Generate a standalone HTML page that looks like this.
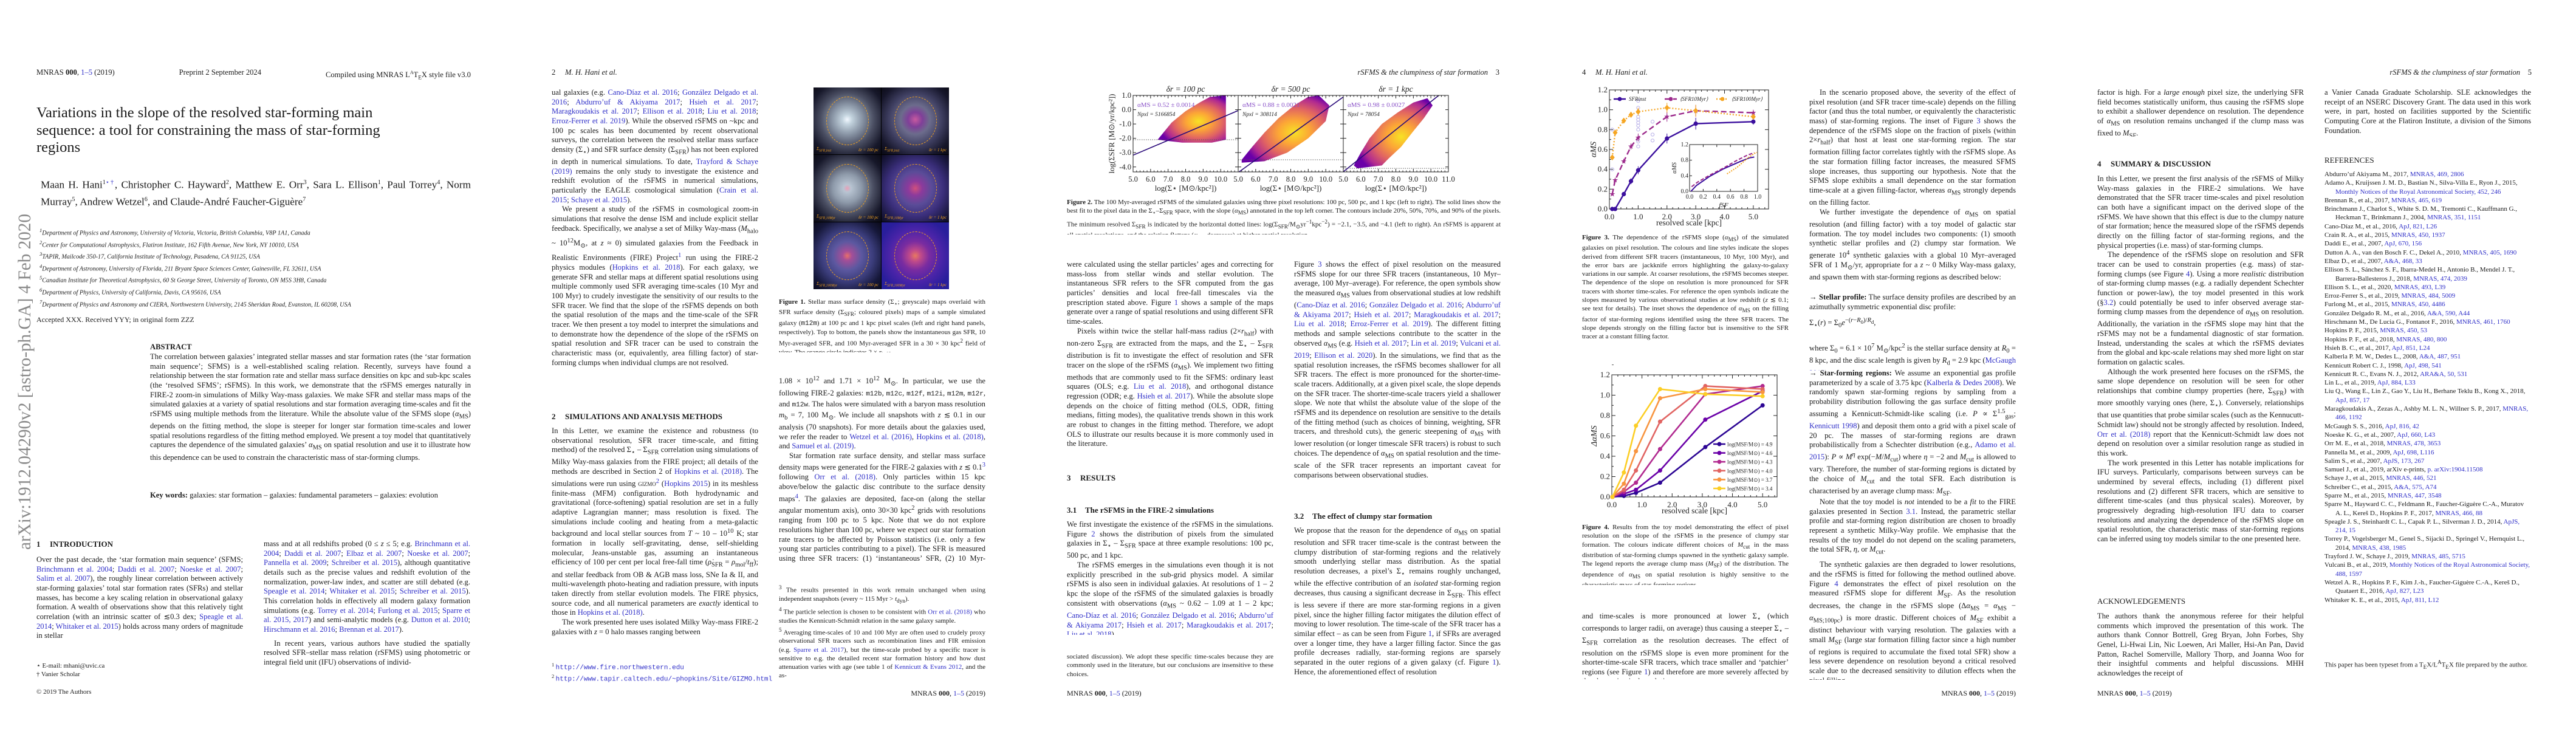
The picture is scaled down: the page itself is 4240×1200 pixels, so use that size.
<!DOCTYPE html>
<html lang="en"><head><meta charset="utf-8"><title>Variations in the slope of the resolved star-forming main sequence</title>
<style>
*{box-sizing:border-box}
html,body{margin:0;padding:0;background:#fff}
body{width:4240px;height:1200px;position:relative;overflow:hidden;font-family:"Liberation Serif","DejaVu Serif",serif;color:#1a1a1a}
.a{position:absolute}
.t{position:absolute;width:340px;font-size:12.6px;line-height:15.65px;text-align:justify;hyphens:auto;overflow:hidden}
.t p{margin:0}
.t p.i{text-indent:17px}
.s{position:absolute;font-size:11px;line-height:14.25px;text-align:justify;hyphens:auto;overflow:hidden}
.s p{margin:0}
.l{color:#2f2fc8}
.hd{position:absolute;font-size:12.6px;line-height:15px;white-space:nowrap}
.h{position:absolute;font-size:13px;font-weight:bold;white-space:nowrap;line-height:16px}
.h span{display:inline-block;width:22px}
.hs{position:absolute;font-size:13px;font-weight:bold;white-space:nowrap;line-height:16px}
.hs span{display:inline-block;width:30px}
.tt{font-family:"Liberation Mono",monospace;font-size:11px}
.fig1 .c{position:absolute;width:111px;height:110px;overflow:hidden}
.fig1 .ring{position:absolute;left:21px;top:15px;width:70px;height:80px;border:1.5px dashed #f0a020;border-radius:50%}
.fig1 .lb{position:absolute;bottom:3px;font-size:7px;color:#f0a020;font-style:italic}
.ref{position:absolute;width:340px;font-size:11px;line-height:14.3px;overflow:hidden}
.ref div{padding-left:18px;text-indent:-18px}
</style></head><body>

<!-- ================= PAGE 1 ================= -->
<div class="a" style="left:0;top:0;width:848px;height:1200px">
<div class="hd" style="left:60px;top:112px;width:715px;display:flex;justify-content:space-between">
<span>MNRAS <b>000</b>, <span class="l">1–5</span> (2019)</span><span>Preprint 2 September 2024</span><span>Compiled using MNRAS L<sup style="font-size:8px">A</sup>T<sub style="font-size:9px">E</sub>X style file v3.0</span></div>

<svg class="a" style="left:0;top:0" width="80" height="1200"><text x="50" y="905" transform="rotate(-90 50 905)" textLength="553" lengthAdjust="spacingAndGlyphs" font-family="Liberation Serif" font-size="30" fill="#8a8a8a">arXiv:1912.04290v2  [astro-ph.GA]  4 Feb 2020</text></svg>

<div class="a" style="left:60px;top:172px;width:740px;font-size:24.5px;line-height:28.7px">Variations in the slope of the resolved star-forming main<br>sequence: a tool for constraining the mass of star-forming<br>regions</div>

<div class="a" style="left:67px;top:289px;width:708px;font-size:17.2px;line-height:24px;text-align:justify">Maan H. Hani<sup style="font-size:10px">1<span class="l">⋆†</span></sup>, Christopher C. Hayward<sup style="font-size:10px">2</sup>, Matthew E. Orr<sup style="font-size:10px">3</sup>, Sara L. Ellison<sup style="font-size:10px">1</sup>, Paul Torrey<sup style="font-size:10px">4</sup>, Norm Murray<sup style="font-size:10px">5</sup>, Andrew Wetzel<sup style="font-size:10px">6</sup>, and Claude-André Faucher-Giguère<sup style="font-size:10px">7</sup></div>

<div class="a" style="left:65px;top:372px;width:720px;font-size:10.2px;line-height:14.2px;font-style:italic;white-space:nowrap">
<div><sup>1</sup>Department of Physics and Astronomy, University of Victoria, Victoria, British Columbia, V8P 1A1, Canada</div>
<div><sup>2</sup>Center for Computational Astrophysics, Flatiron Institute, 162 Fifth Avenue, New York, NY 10010, USA</div>
<div><sup>3</sup>TAPIR, Mailcode 350-17, California Institute of Technology, Pasadena, CA 91125, USA</div>
<div><sup>4</sup>Department of Astronomy, University of Florida, 211 Bryant Space Sciences Center, Gainesville, FL 32611, USA</div>
<div><sup>5</sup>Canadian Institute for Theoretical Astrophysics, 60 St George Street, University of Toronto, ON M5S 3H8, Canada</div>
<div><sup>6</sup>Department of Physics, University of California, Davis, CA 95616, USA</div>
<div><sup>7</sup>Department of Physics and Astronomy and CIERA, Northwestern University, 2145 Sheridan Road, Evanston, IL 60208, USA</div>
</div>

<div class="a" style="left:60px;top:519px;font-size:12px">Accepted XXX. Received YYY; in original form ZZZ</div>

<div class="a" style="left:247px;top:564px;font-size:12.6px;font-weight:bold">ABSTRACT</div>
<div class="t" style="left:247px;top:580px;width:528px;height:220px">The correlation between galaxies’ integrated stellar masses and star formation rates (the ‘star formation main sequence’; SFMS) is a well-established scaling relation. Recently, surveys have found a relationship between the star formation rate and stellar mass surface densities on kpc and sub-kpc scales (the ‘resolved SFMS’; rSFMS). In this work, we demonstrate that the rSFMS emerges naturally in FIRE-2 zoom-in simulations of Milky Way-mass galaxies. We make SFR and stellar mass maps of the simulated galaxies at a variety of spatial resolutions and star formation averaging time-scales and fit the rSFMS using multiple methods from the literature. While the absolute value of the SFMS slope (<i>α</i><sub>MS</sub>) depends on the fitting method, the slope is steeper for longer star formation time-scales and lower spatial resolutions regardless of the fitting method employed. We present a toy model that quantitatively captures the dependence of the simulated galaxies’ <i>α</i><sub>MS</sub> on spatial resolution and use it to illustrate how this dependence can be used to constrain the characteristic mass of star-forming clumps.</div>
<div class="t" style="left:247px;top:808px;width:528px;height:32px"><b>Key words:</b> galaxies: star formation – galaxies: fundamental parameters – galaxies: evolution</div>

<div class="h" style="left:60px;top:888px"><span>1</span>INTRODUCTION</div>
<div class="t" style="left:60px;top:914px;height:142px">Over the past decade, the ‘star formation main sequence’ (SFMS; <span class="l">Brinchmann et al. 2004</span>; <span class="l">Daddi et al. 2007</span>; <span class="l">Noeske et al. 2007</span>; <span class="l">Salim et al. 2007</span>), the roughly linear correlation between actively star-forming galaxies’ total star formation rates (SFRs) and stellar masses, has become a key scaling relation in observational galaxy formation. A wealth of observations show that this relatively tight correlation (with an intrinsic scatter of ≲0.3 dex; <span class="l">Speagle et al. 2014</span>; <span class="l">Whitaker et al. 2015</span>) holds across many orders of magnitude in stellar</div>
<div class="a" style="left:60px;top:1090px;font-size:10.8px;line-height:13.5px"><div>⋆ E-mail: mhani@uvic.ca</div><div>† Vanier Scholar</div></div>
<div class="a" style="left:60px;top:1133px;font-size:11px">© 2019 The Authors</div>
<div class="t" style="left:434px;top:888px;height:236px"><p>mass and at all redshifts probed (0 ≤ <i>z</i> ≤ 5; e.g. <span class="l">Brinchmann et al. 2004</span>; <span class="l">Daddi et al. 2007</span>; <span class="l">Elbaz et al. 2007</span>; <span class="l">Noeske et al. 2007</span>; <span class="l">Pannella et al. 2009</span>; <span class="l">Schreiber et al. 2015</span>), although quantitative details such as the precise values and redshift evolution of the normalization, power-law index, and scatter are still debated (e.g. <span class="l">Speagle et al. 2014</span>; <span class="l">Whitaker et al. 2015</span>; <span class="l">Schreiber et al. 2015</span>). This correlation holds in effectively all modern galaxy formation simulations (e.g. <span class="l">Torrey et al. 2014</span>; <span class="l">Furlong et al. 2015</span>; <span class="l">Sparre et al. 2015, 2017</span>) and semi-analytic models (e.g. <span class="l">Dutton et al. 2010</span>; <span class="l">Hirschmann et al. 2016</span>; <span class="l">Brennan et al. 2017</span>).</p><p class="i" style="margin-top:7px">In recent years, various authors have studied the spatially resolved SFR–stellar mass relation (rSFMS) using photometric or integral field unit (IFU) observations of individ-</p></div>
</div>

<!-- ================= PAGE 2 ================= -->
<div class="hd" style="left:908px;top:112px">2 &nbsp;&nbsp;&nbsp;&nbsp;<i>M. H. Hani et al.</i></div>
<div class="t" style="left:908px;top:145px;height:485px"><p>ual galaxies (e.g. <span class="l">Cano-Díaz et al. 2016</span>; <span class="l">González Delgado et al. 2016</span>; <span class="l">Abdurro’uf &amp; Akiyama 2017</span>; <span class="l">Hsieh et al. 2017</span>; <span class="l">Maragkoudakis et al. 2017</span>; <span class="l">Ellison et al. 2018</span>; <span class="l">Liu et al. 2018</span>; <span class="l">Erroz-Ferrer et al. 2019</span>). While the observed rSFMS on ~kpc and 100 pc scales has been documented by recent observational surveys, the correlation between the resolved stellar mass surface density (Σ<sub>⋆</sub>) and SFR surface density (Σ<sub>SFR</sub>) has not been explored in depth in numerical simulations. To date, <span class="l">Trayford &amp; Schaye (2019)</span> remains the only study to investigate the existence and redshift evolution of the rSFMS in numerical simulations, particularly the EAGLE cosmological simulation (<span class="l">Crain et al. 2015</span>; <span class="l">Schaye et al. 2015</span>).</p><p class="i">We present a study of the rSFMS in cosmological zoom-in simulations that resolve the dense ISM and include explicit stellar feedback. Specifically, we analyse a set of Milky Way-mass (<i>M</i><sub>halo</sub> ~ 10<sup>12</sup>M<sub>⊙</sub>, at <i>z</i> ≈ 0) simulated galaxies from the Feedback in Realistic Environments (FIRE) Project<sup class="l">1</sup> run using the FIRE-2 physics modules (<span class="l">Hopkins et al. 2018</span>). For each galaxy, we generate SFR and stellar maps at different spatial resolutions using multiple commonly used SFR averaging time-scales (10 Myr and 100 Myr) to crudely investigate the sensitivity of our results to the SFR tracer. We find that the slope of the rSFMS depends on both the spatial resolution of the maps and the time-scale of the SFR tracer. We then present a toy model to interpret the simulations and to demonstrate how the dependence of the slope of the rSFMS on spatial resolution and SFR tracer can be used to constrain the characteristic mass (or, equivalently, area filling factor) of star-forming clumps when individual clumps are not resolved.</p></div>
<div class="h" style="left:908px;top:678px"><span>2</span>SIMULATIONS AND ANALYSIS METHODS</div>
<div class="t" style="left:908px;top:702px;height:345px"><p>In this Letter, we examine the existence and robustness (to observational resolution, SFR tracer time-scale, and fitting method) of the resolved Σ<sub>⋆</sub> – Σ<sub>SFR</sub> correlation using simulations of Milky Way-mass galaxies from the FIRE project; all details of the methods are described in Section 2 of <span class="l">Hopkins et al. (2018)</span>. The simulations were run using <span style="font-variant:small-caps">gizmo</span><sup class="l">2</sup> (<span class="l">Hopkins 2015</span>) in its meshless finite-mass (MFM) configuration. Both hydrodynamic and gravitational (force-softening) spatial resolution are set in a fully adaptive Lagrangian manner; mass resolution is fixed. The simulations include cooling and heating from a meta-galactic background and local stellar sources from <i>T</i> ~ 10 – 10<sup>10</sup> K; star formation in locally self-gravitating, dense, self-shielding molecular, Jeans-unstable gas, assuming an instantaneous efficiency of 100 per cent per local free-fall time (<i>ρ̇</i><sub>SFR</sub> = <i>ρ</i><sub>mol</sub>/<i>t</i><sub>ff</sub>); and stellar feedback from OB &amp; AGB mass loss, SNe Ia &amp; II, and multi-wavelength photo-heating and radiation pressure, with inputs taken directly from stellar evolution models. The FIRE physics, source code, and all numerical parameters are <i>exactly</i> identical to those in <span class="l">Hopkins et al. (2018)</span>.</p><p class="i">The work presented here uses isolated Milky Way-mass FIRE-2 galaxies with <i>z</i> = 0 halo masses ranging between</p></div>
<div class="a" style="left:908px;top:1088px;font-size:10px;line-height:13.5px;white-space:nowrap"><div><sup>1</sup> <span class="tt l">http://www.fire.northwestern.edu</span></div><div><sup>2</sup> <span class="tt l">http://www.tapir.caltech.edu/~phopkins/Site/GIZMO.html</span></div></div>

<!-- Figure 1 -->
<div class="a fig1" style="left:1339px;top:144px;width:223px;height:332px;background:#000">
 <div class="c" style="left:0;top:0;background:radial-gradient(circle at 50% 48%,#f2f8ff 0,#c3d3de 10%,#8c98a8 30%,#4a4e62 55%,#17182a 80%,#0b0b14 100%)"><div class="ring"></div><div class="lb" style="left:5px">Σ<sub>SFR,inst</sub></div><div class="lb" style="right:4px">δr = 100 pc</div></div>
 <div class="c" style="left:112px;top:0;background:radial-gradient(circle at 50% 48%,#c85aa0 0,#7f3f98 15%,#6c6c8c 30%,#3e3e60 55%,#16162a 80%,#0a0a14 100%)"><div class="ring"></div><div class="lb" style="left:5px">Σ<sub>SFR,inst</sub></div><div class="lb" style="right:4px">δr = 1 kpc</div></div>
 <div class="c" style="left:0;top:111px;background:radial-gradient(circle at 50% 50%,#e8a0b8 0,#b8c4d2 8%,#8e9aaa 30%,#4a4e62 55%,#17182a 80%,#0b0b14 100%)"><div class="ring"></div><div class="lb" style="left:5px">Σ<sub>SFR,10Myr</sub></div><div class="lb" style="right:4px">δr = 100 pc</div></div>
 <div class="c" style="left:112px;top:111px;background:radial-gradient(circle at 50% 50%,#d0507e 0,#8c3a9c 15%,#5a4c98 35%,#3a2e7a 60%,#1a1840 85%,#0d0c20 100%)"><div class="ring"></div><div class="lb" style="left:5px">Σ<sub>SFR,10Myr</sub></div><div class="lb" style="right:4px">δr = 1 kpc</div></div>
 <div class="c" style="left:0;top:222px;background:radial-gradient(circle at 50% 50%,#e8706a 0,#a44e98 10%,#5c58a0 30%,#3a3c7a 55%,#16183a 80%,#0b0b1a 100%)"><div class="ring"></div><div class="lb" style="left:5px">Σ<sub>SFR,100Myr</sub></div><div class="lb" style="right:4px">δr = 100 pc</div></div>
 <div class="c" style="left:112px;top:222px;background:radial-gradient(circle at 50% 50%,#e87a60 0,#c04a8a 12%,#7a2ca0 30%,#4a24a8 55%,#2a1e9c 80%,#24209a 100%)"><div class="ring"></div><div class="lb" style="left:5px">Σ<sub>SFR,100Myr</sub></div><div class="lb" style="right:4px">δr = 1 kpc</div></div>
</div>
<div class="s" style="left:1282px;top:490px;width:340px;height:90px"><b>Figure 1.</b> Stellar mass surface density (Σ<sub>⋆</sub>; greyscale) maps overlaid with SFR surface density (Σ<sub>SFR</sub>; coloured pixels) maps of a sample simulated galaxy (<span class="tt">m12m</span>) at 100 pc and 1 kpc pixel scales (left and right hand panels, respectively). Top to bottom, the panels show the instantaneous gas SFR, 10 Myr-averaged SFR, and 100 Myr-averaged SFR in a 30 × 30 kpc<sup>2</sup> field of view. The orange circle indicates 2 × <i>r</i><sub>half</sub>.</div>
<div class="t" style="left:1282px;top:616px;height:314px"><p>1.08 × 10<sup>12</sup> and 1.71 × 10<sup>12</sup> M<sub>⊙</sub>. In particular, we use the following FIRE-2 galaxies: <span class="tt">m12b</span>, <span class="tt">m12c</span>, <span class="tt">m12f</span>, <span class="tt">m12i</span>, <span class="tt">m12m</span>, <span class="tt">m12r</span>, and <span class="tt">m12w</span>. The halos were simulated with a baryon mass resolution <i>m</i><sub>b</sub> = 7, 100 M<sub>⊙</sub>. We include all snapshots with <i>z</i> ≲ 0.1 in our analysis (70 snapshots). For more details about the galaxies used, we refer the reader to <span class="l">Wetzel et al. (2016)</span>, <span class="l">Hopkins et al. (2018)</span>, and <span class="l">Samuel et al. (2019)</span>.</p><p class="i">Star formation rate surface density, and stellar mass surface density maps were generated for the FIRE-2 galaxies with <i>z</i> ≲ 0.1<sup class="l">3</sup> following <span class="l">Orr et al. (2018)</span>. Only particles within 15 kpc above/below the galactic disc contribute to the surface density maps<sup class="l">4</sup>. The galaxies are deposited, face-on (along the stellar angular momentum axis), onto 30×30 kpc<sup>2</sup> grids with resolutions ranging from 100 pc to 5 kpc. Note that we do not explore resolutions higher than 100 pc, where we expect our star formation rate tracers to be affected by Poisson statistics (i.e. only a few young star particles contributing to a pixel). The SFR is measured using three SFR tracers: (1) ‘instantaneous’ SFR, (2) 10 Myr-averaged SFR, and (3) 100 Myr-averaged SFR.<sup class="l">5</sup> The time-averaged SFRs</p></div>
<div class="s" style="left:1282px;top:960px;width:340px;height:160px"><p><sup>3</sup> The results presented in this work remain unchanged when using independent snapshots (every ~ 115 Myr &gt; <i>t</i><sub>dyn</sub>).</p><p><sup>4</sup> The particle selection is chosen to be consistent with <span class="l">Orr et al. (2018)</span> who studies the Kennicutt-Schmidt relation in the same galaxy sample.</p><p><sup>5</sup> Averaging time-scales of 10 and 100 Myr are often used to crudely proxy observational SFR tracers such as recombination lines and FIR emission (e.g. <span class="l">Sparre et al. 2017</span>), but the time-scale probed by a specific tracer is sensitive to e.g. the detailed recent star formation history and how dust attenuation varies with age (see table 1 of <span class="l">Kennicutt &amp; Evans 2012</span>, and the as-</p></div>
<div class="hd" style="left:1482px;top:1134px;width:140px;text-align:right;font-size:12px">MNRAS <b>000</b>, <span class="l">1–5</span> (2019)</div>

<!-- ================= PAGE 3 ================= -->
<div class="hd" style="left:2068px;top:112px;width:400px;text-align:right"><i>rSFMS &amp; the clumpiness of star formation</i> &nbsp;&nbsp;&nbsp;3</div>
<svg id="fig2" class="a" style="left:1810px;top:135px" width="590" height="185" font-family="Liberation Serif"></svg>
<div class="s" style="left:1756px;top:326px;width:714px;height:60px"><b>Figure 2.</b> The 100 Myr-averaged rSFMS of the simulated galaxies using three pixel resolutions: 100 pc, 500 pc, and 1 kpc (left to right). The solid lines show the best fit to the pixel data in the Σ<sub>⋆</sub>–Σ<sub>SFR</sub> space, with the slope (<i>α</i><sub>MS</sub>) annotated in the top left corner. The contours include 20%, 50%, 70%, and 90% of the pixels. The minimum resolved Σ<sub>SFR</sub> is indicated by the horizontal dotted lines: log(Σ<sub>SFR</sub>/M<sub>⊙</sub>yr<sup>−1</sup>kpc<sup>−2</sup>) = −2.1, −3.5, and −4.1 (left to right). An rSFMS is apparent at all spatial resolutions, and the relation flattens (<i>α</i><sub>MS</sub> decreases) at higher spatial resolution.</div>
<div class="t" style="left:1756px;top:428px;height:314px"><p>were calculated using the stellar particles’ ages and correcting for mass-loss from stellar winds and stellar evolution. The instantaneous SFR refers to the SFR computed from the gas particles’ densities and local free-fall timescales via the prescription stated above. Figure <span class="l">1</span> shows a sample of the maps generate over a range of spatial resolutions and using different SFR time-scales.</p><p class="i">Pixels within twice the stellar half-mass radius (2×<i>r</i><sub>half</sub>) with non-zero Σ<sub>SFR</sub> are extracted from the maps, and the Σ<sub>⋆</sub> – Σ<sub>SFR</sub> distribution is fit to investigate the effect of resolution and SFR tracer on the slope of the rSFMS (<i>α</i><sub>MS</sub>). We implement two fitting methods that are commonly used to fit the SFMS: ordinary least squares (OLS; e.g. <span class="l">Liu et al. 2018</span>), and orthogonal distance regression (ODR; e.g. <span class="l">Hsieh et al. 2017</span>). While the absolute slope depends on the choice of fitting method (OLS, ODR, fitting medians, fitting modes), the qualitative trends shown in this work are robust to changes in the fitting method. Therefore, we adopt OLS to illustrate our results because it is more commonly used in the literature.</p></div>
<div class="h" style="left:1756px;top:779px"><span>3</span>RESULTS</div>
<div class="hs" style="left:1756px;top:832px"><span>3.1</span>The rSFMS in the FIRE-2 simulations</div>
<div class="t" style="left:1756px;top:856px;height:189px"><p>We first investigate the existence of the rSFMS in the simulations. Figure <span class="l">2</span> shows the distribution of pixels from the simulated galaxies in Σ<sub>⋆</sub> – Σ<sub>SFR</sub> space at three example resolutions: 100 pc, 500 pc, and 1 kpc.</p><p class="i">The rSFMS emerges in the simulations even though it is not explicitly prescribed in the sub-grid physics model. A similar rSFMS is also seen in individual galaxies. At resolutions of 1 – 2 kpc the slope of the rSFMS of the simulated galaxies is broadly consistent with observations (<i>α</i><sub>MS</sub> ~ 0.62 – 1.09 at 1 – 2 kpc; <span class="l">Cano-Díaz et al. 2016</span>; <span class="l">González Delgado et al. 2016</span>; <span class="l">Abdurro’uf &amp; Akiyama 2017</span>; <span class="l">Hsieh et al. 2017</span>; <span class="l">Maragkoudakis et al. 2017</span>; <span class="l">Liu et al. 2018</span>).</p></div>
<div class="s" style="left:1756px;top:1074px;width:340px;height:45px">sociated discussion). We adopt these specific time-scales because they are commonly used in the literature, but our conclusions are insensitive to these choices.</div>
<div class="hd" style="left:1756px;top:1134px;font-size:12px">MNRAS <b>000</b>, <span class="l">1–5</span> (2019)</div>
<div class="t" style="left:2130px;top:428px;height:392px"><p>Figure <span class="l">3</span> shows the effect of pixel resolution on the measured rSFMS slope for our three SFR tracers (instantaneous, 10 Myr–average, 100 Myr–average). For reference, the open symbols show the measured <i>α</i><sub>MS</sub> values from observational studies at low redshift (<span class="l">Cano-Díaz et al. 2016</span>; <span class="l">González Delgado et al. 2016</span>; <span class="l">Abdurro’uf &amp; Akiyama 2017</span>; <span class="l">Hsieh et al. 2017</span>; <span class="l">Maragkoudakis et al. 2017</span>; <span class="l">Liu et al. 2018</span>; <span class="l">Erroz-Ferrer et al. 2019</span>). The different fitting methods and sample selections contribute to the scatter in the observed <i>α</i><sub>MS</sub> (e.g. <span class="l">Hsieh et al. 2017</span>; <span class="l">Lin et al. 2019</span>; <span class="l">Vulcani et al. 2019</span>; <span class="l">Ellison et al. 2020</span>). In the simulations, we find that as the spatial resolution increases, the rSFMS becomes shallower for all SFR tracers. The effect is more pronounced for the shorter-time-scale tracers. Additionally, at a given pixel scale, the slope depends on the SFR tracer. The shorter-time-scale tracers yield a shallower slope. We note that whilst the absolute value of the slope of the rSFMS and its dependence on resolution are sensitive to the details of the fitting method (such as choices of binning, weighting, SFR tracers, and threshold cuts), the generic steepening of <i>α</i><sub>MS</sub> with lower resolution (or longer timescale SFR tracers) is robust to such choices. The dependence of <i>α</i><sub>MS</sub> on spatial resolution and the time-scale of the SFR tracer represents an important caveat for comparisons between observational studies.</p></div>
<div class="hs" style="left:2130px;top:842px"><span>3.2</span>The effect of clumpy star formation</div>
<div class="t" style="left:2130px;top:866px;height:252px">We propose that the reason for the dependence of <i>α</i><sub>MS</sub> on spatial resolution and SFR tracer time-scale is the contrast between the clumpy distribution of star-forming regions and the relatively smooth underlying stellar mass distribution. As the spatial resolution decreases, a pixel’s Σ<sub>⋆</sub> remains roughly unchanged, while the effective contribution of an <i>isolated</i> star-forming region decreases, thus causing a significant decrease in Σ<sub>SFR</sub>. This effect is less severe if there are more star-forming regions in a given pixel, since the higher filling factor mitigates the dilution effect of moving to lower resolution. The time-scale of the SFR tracer has a similar effect – as can be seen from Figure <span class="l">1</span>, if SFRs are averaged over a longer time, they have a larger filling factor. Since the gas profile decreases radially, star-forming regions are sparsely separated in the outer regions of a given galaxy (cf. Figure <span class="l">1</span>). Hence, the aforementioned effect of resolution</div>

<!-- ================= PAGE 4 ================= -->
<div class="hd" style="left:2604px;top:112px">4 &nbsp;&nbsp;&nbsp;&nbsp;<i>M. H. Hani et al.</i></div>
<svg id="fig3" class="a" style="left:2600px;top:135px" width="330" height="245" font-family="Liberation Serif"></svg>
<div class="s" style="left:2604px;top:384px;width:340px;height:190px"><b>Figure 3.</b> The dependence of the rSFMS slope (<i>α</i><sub>MS</sub>) of the simulated galaxies on pixel resolution. The colours and line styles indicate the slopes derived from different SFR tracers (instantaneous, 10 Myr, 100 Myr), and the error bars are jackknife errors highlighting the galaxy-to-galaxy variations in our sample. At coarser resolutions, the rSFMS becomes steeper. The dependence of the slope on resolution is more pronounced for SFR tracers with shorter time-scales. For reference the open symbols indicate the slopes measured by various observational studies at low redshift (<i>z</i> ≲ 0.1; see text for details). The inset shows the dependence of <i>α</i><sub>MS</sub> on the filling factor of star-forming regions identified using the three SFR tracers. The slope depends strongly on the filling factor but is insensitive to the SFR tracer at a constant filling factor.</div>
<svg id="fig4" class="a" style="left:2600px;top:600px" width="330" height="250" font-family="Liberation Serif"></svg>
<div class="s" style="left:2604px;top:861px;width:340px;height:102px"><b>Figure 4.</b> Results from the toy model demonstrating the effect of pixel resolution on the slope of the rSFMS in the presence of clumpy star formation. The colours indicate different choices of <i>M</i><sub>cut</sub> in the mass distribution of star-forming clumps spawned in the synthetic galaxy sample. The legend reports the average clump mass (<i>M</i><sub>SF</sub>) of the distribution. The dependence of <i>α</i><sub>MS</sub> on spatial resolution is highly sensitive to the characteristic mass of star-forming regions.</div>
<div class="t" style="left:2604px;top:1007px;height:111px">and time-scales is more pronounced at lower Σ<sub>⋆</sub> (which corresponds to larger radii, on average) thus causing a steeper Σ<sub>⋆</sub> – Σ<sub>SFR</sub> correlation as the resolution decreases. The effect of resolution on the rSFMS slope is even more prominent for the shorter-time-scale SFR tracers, which trace smaller and ‘patchier’ regions (see Figure <span class="l">1</span>) and therefore are more severely affected by the change in pixel resolution.</div>
<div class="t" style="left:2978px;top:145px;height:322px"><p class="i">In the scenario proposed above, the severity of the effect of pixel resolution (and SFR tracer time-scale) depends on the filling factor (and thus the total number, or equivalently the characteristic mass) of star-forming regions. The inset of Figure <span class="l">3</span> shows the dependence of the rSFMS slope on the fraction of pixels (within 2×<i>r</i><sub>half</sub>) that host at least one star-forming region. The star formation filling factor correlates tightly with the rSFMS slope. As the star formation filling factor increases, the measured SFMS slope increases, thus supporting our hypothesis. Note that the SFMS slope exhibits a small dependence on the star formation time-scale at a given filling-factor, whereas <i>α</i><sub>MS</sub> strongly depends on the filling factor.</p><p class="i">We further investigate the dependence of <i>α</i><sub>MS</sub> on spatial resolution (and filling factor) with a toy model of galactic star formation. The toy model includes two components: (1) smooth synthetic stellar profiles and (2) clumpy star formation. We generate 10<sup>4</sup> synthetic galaxies with a global 10 Myr–averaged SFR of 1 M<sub>⊙</sub>/yr, appropriate for a <i>z</i> ~ 0 Milky Way-mass galaxy, and spawn them with star-forming regions as described below:</p></div>
<div class="t" style="left:2978px;top:482px;height:32px">→ <b>Stellar profile:</b> The surface density profiles are described by an azimuthally symmetric exponential disc profile:</div>
<div class="a" style="left:2978px;top:522px;font-size:12.6px">Σ<sub>⋆</sub>(<i>r</i>) = Σ<sub>0</sub><i>e</i><sup>−(<i>r</i>−<i>R</i><sub>0</sub>)/<i>R</i><sub>d</sub></sup>,</div>
<div class="t" style="left:2978px;top:562px;height:48px">where Σ<sub>0</sub> = 6.1 × 10<sup>7</sup> M<sub>⊙</sub>/kpc<sup>2</sup> is the stellar surface density at <i>R</i><sub>0</sub> = 8 kpc, and the disc scale length is given by <i>R</i><sub>d</sub> = 2.9 kpc (<span class="l">McGaugh 2016</span>).</div>
<div class="t" style="left:2978px;top:607px;height:212px">→ <b>Star-forming regions:</b> We assume an exponential gas profile parameterized by a scale of 3.75 kpc (<span class="l">Kalberla &amp; Dedes 2008</span>). We randomly spawn star-forming regions by sampling from a probability distribution following the gas surface density profile assuming a Kennicutt-Schmidt-like scaling (i.e. <i>P</i> ∝ Σ<sup>1.5</sup><sub>gas</sub>; <span class="l">Kennicutt 1998</span>) and deposit them onto a grid with a pixel scale of 20 pc. The masses of star-forming regions are drawn probabilistically from a Schechter distribution (e.g., <span class="l">Adamo et al. 2015</span>): <i>P</i> ∝ <i>M</i><sup><i>η</i></sup> exp(−<i>M</i>/<i>M</i><sub>cut</sub>) where <i>η</i> = −2 and <i>M</i><sub>cut</sub> is allowed to vary. Therefore, the number of star-forming regions is dictated by the choice of <i>M</i><sub>cut</sub> and the total SFR. Each distribution is characterised by an average clump mass: <i>M</i><sub>SF</sub>.</div>
<div class="t" style="left:2978px;top:819px;height:300px"><p class="i">Note that the toy model is <i>not</i> intended to be a <i>fit</i> to the FIRE galaxies presented in Section <span class="l">3.1</span>. Instead, the parametric stellar profile and star-forming region distribution are chosen to broadly represent a synthetic Milky-Way profile. We emphasise that the results of the toy model do not depend on the scaling parameters, the total SFR, <i>η</i>, or <i>M</i><sub>cut</sub>.</p><p class="i" style="margin-top:5px">The synthetic galaxies are then degraded to lower resolutions, and the rSFMS is fitted for following the method outlined above. Figure <span class="l">4</span> demonstrates the effect of pixel resolution on the measured rSFMS slope for different <i>M</i><sub>SF</sub>. As the resolution decreases, the change in the rSFMS slope (Δ<i>α</i><sub>MS</sub> = <i>α</i><sub>MS</sub> − <i>α</i><sub>MS;100pc</sub>) is more drastic. Different choices of <i>M</i><sub>SF</sub> exhibit a distinct behaviour with varying resolution. The galaxies with a small <i>M</i><sub>SF</sub> (large star formation filling factor since a high number of regions is required to accumulate the fixed total SFR) show a less severe dependence on resolution beyond a critical resolved scale due to the decreased sensitivity to dilution effects when the pixel filling</p></div>
<div class="hd" style="left:3178px;top:1134px;width:140px;text-align:right;font-size:12px">MNRAS <b>000</b>, <span class="l">1–5</span> (2019)</div>

<!-- ================= PAGE 5 ================= -->
<div class="hd" style="left:3767px;top:112px;width:400px;text-align:right"><i>rSFMS &amp; the clumpiness of star formation</i> &nbsp;&nbsp;&nbsp;5</div>
<div class="t" style="left:3452px;top:145px;height:80px">factor is high. For a <i>large enough</i> pixel size, the underlying SFR field becomes statistically uniform, thus causing the rSFMS slope to exhibit a shallower dependence on resolution. The dependence of <i>α</i><sub>MS</sub> on resolution remains unchanged if the clump mass was fixed to <i>M</i><sub>SF</sub>.</div>
<div class="h" style="left:3452px;top:262px"><span>4</span>SUMMARY &amp; DISCUSSION</div>
<div class="t" style="left:3452px;top:287px;height:658px"><p>In this Letter, we present the first analysis of the rSFMS of Milky Way-mass galaxies in the FIRE-2 simulations. We have demonstrated that the SFR tracer time-scales and pixel resolution can both have a significant impact on the derived slope of the rSFMS. We have shown that this effect is due to the clumpy nature of star formation; hence the measured slope of the rSFMS depends directly on the filling factor of star-forming regions, and the physical properties (i.e. mass) of star-forming clumps.</p><p class="i">The dependence of the rSFMS slope on resolution and SFR tracer can be used to constrain properties (e.g. mass) of star-forming clumps (see Figure <span class="l">4</span>). Using a more <i>realistic</i> distribution of star-forming clump masses (e.g. a radially dependent Schechter function or power-law), the toy model presented in this work (§<span class="l">3.2</span>) could potentially be used to infer observed average star-forming clump masses from the dependence of <i>α</i><sub>MS</sub> on resolution. Additionally, the variation in the rSFMS slope may hint that the rSFMS may not be a fundamental diagnostic of star formation. Instead, understanding the scales at which the rSFMS deviates from the global and kpc-scale relations may shed more light on star formation on galactic scales.</p><p class="i">Although the work presented here focuses on the rSFMS, the same slope dependence on resolution will be seen for other relationships that combine clumpy properties (here, Σ<sub>SFR</sub>) with more smoothly varying ones (here, Σ<sub>⋆</sub>). Conversely, relationships that use quantities that probe similar scales (such as the Kennucutt-Schmidt law) should not be strongly affected by resolution. Indeed, <span class="l">Orr et al. (2018)</span> report that the Kennicutt-Schmidt law does not depend on resolution over a similar resolution range as studied in this work.</p><p class="i">The work presented in this Letter has notable implications for IFU surveys. Particularly, comparisons between surveys can be undermined by several effects, including (1) different pixel resolutions and (2) different SFR tracers, which are sensitive to different time-scales (and thus physical scales). Moreover, by progressively degrading high-resolution IFU data to coarser resolutions and analyzing the dependence of the rSFMS slope on spatial resolution, the characteristic mass of star-forming regions can be inferred using toy models similar to the one presented here.</p></div>
<div class="a" style="left:3452px;top:982px;font-size:13px;line-height:16px">ACKNOWLEDGEMENTS</div>
<div class="t" style="left:3452px;top:1007px;height:111px">The authors thank the anonymous referee for their helpful comments which improved the presentation of this work. The authors thank Connor Bottrell, Greg Bryan, John Forbes, Shy Genel, Li-Hwai Lin, Nic Loewen, Ari Maller, Hsi-An Pan, David Patton, Rachel Somerville, Mallory Thorp, and Joanna Woo for their insightful comments and helpful discussions. MHH acknowledges the receipt of</div>
<div class="hd" style="left:3452px;top:1134px;font-size:12px">MNRAS <b>000</b>, <span class="l">1–5</span> (2019)</div>
<div class="t" style="left:3826px;top:145px;height:80px">a Vanier Canada Graduate Scholarship. SLE acknowledges the receipt of an NSERC Discovery Grant. The data used in this work were, in part, hosted on facilities supported by the Scientific Computing Core at the Flatiron Institute, a division of the Simons Foundation.</div>
<div class="a" style="left:3826px;top:256px;font-size:13px;line-height:16px">REFERENCES</div>
<div class="ref" style="left:3826px;top:280px;height:785px">
<div>Abdurro’uf Akiyama M., 2017, <span class="l">MNRAS, 469, 2806</span></div>
<div>Adamo A., Kruijssen J. M. D., Bastian N., Silva-Villa E., Ryon J., 2015, <span class="l">Monthly Notices of the Royal Astronomical Society, 452, 246</span></div>
<div>Brennan R., et al., 2017, <span class="l">MNRAS, 465, 619</span></div>
<div>Brinchmann J., Charlot S., White S. D. M., Tremonti C., Kauffmann G., Heckman T., Brinkmann J., 2004, <span class="l">MNRAS, 351, 1151</span></div>
<div>Cano-Díaz M., et al., 2016, <span class="l">ApJ, 821, L26</span></div>
<div>Crain R. A., et al., 2015, <span class="l">MNRAS, 450, 1937</span></div>
<div>Daddi E., et al., 2007, <span class="l">ApJ, 670, 156</span></div>
<div>Dutton A. A., van den Bosch F. C., Dekel A., 2010, <span class="l">MNRAS, 405, 1690</span></div>
<div>Elbaz D., et al., 2007, <span class="l">A&amp;A, 468, 33</span></div>
<div>Ellison S. L., Sánchez S. F., Ibarra-Medel H., Antonio B., Mendel J. T., Barrera-Ballesteros J., 2018, <span class="l">MNRAS, 474, 2039</span></div>
<div>Ellison S. L., et al., 2020, <span class="l">MNRAS, 493, L39</span></div>
<div>Erroz-Ferrer S., et al., 2019, <span class="l">MNRAS, 484, 5009</span></div>
<div>Furlong M., et al., 2015, <span class="l">MNRAS, 450, 4486</span></div>
<div>González Delgado R. M., et al., 2016, <span class="l">A&amp;A, 590, A44</span></div>
<div>Hirschmann M., De Lucia G., Fontanot F., 2016, <span class="l">MNRAS, 461, 1760</span></div>
<div>Hopkins P. F., 2015, <span class="l">MNRAS, 450, 53</span></div>
<div>Hopkins P. F., et al., 2018, <span class="l">MNRAS, 480, 800</span></div>
<div>Hsieh B. C., et al., 2017, <span class="l">ApJ, 851, L24</span></div>
<div>Kalberla P. M. W., Dedes L., 2008, <span class="l">A&amp;A, 487, 951</span></div>
<div>Kennicutt Robert C. J., 1998, <span class="l">ApJ, 498, 541</span></div>
<div>Kennicutt R. C., Evans N. J., 2012, <span class="l">ARA&amp;A, 50, 531</span></div>
<div>Lin L., et al., 2019, <span class="l">ApJ, 884, L33</span></div>
<div>Liu Q., Wang E., Lin Z., Gao Y., Liu H., Berhane Teklu B., Kong X., 2018, <span class="l">ApJ, 857, 17</span></div>
<div>Maragkoudakis A., Zezas A., Ashby M. L. N., Willner S. P., 2017, <span class="l">MNRAS, 466, 1192</span></div>
<div>McGaugh S. S., 2016, <span class="l">ApJ, 816, 42</span></div>
<div>Noeske K. G., et al., 2007, <span class="l">ApJ, 660, L43</span></div>
<div>Orr M. E., et al., 2018, <span class="l">MNRAS, 478, 3653</span></div>
<div>Pannella M., et al., 2009, <span class="l">ApJ, 698, L116</span></div>
<div>Salim S., et al., 2007, <span class="l">ApJS, 173, 267</span></div>
<div>Samuel J., et al., 2019, arXiv e-prints, <span class="l">p. arXiv:1904.11508</span></div>
<div>Schaye J., et al., 2015, <span class="l">MNRAS, 446, 521</span></div>
<div>Schreiber C., et al., 2015, <span class="l">A&amp;A, 575, A74</span></div>
<div>Sparre M., et al., 2015, <span class="l">MNRAS, 447, 3548</span></div>
<div>Sparre M., Hayward C. C., Feldmann R., Faucher-Giguère C.-A., Muratov A. L., Kereš D., Hopkins P. F., 2017, <span class="l">MNRAS, 466, 88</span></div>
<div>Speagle J. S., Steinhardt C. L., Capak P. L., Silverman J. D., 2014, <span class="l">ApJS, 214, 15</span></div>
<div>Torrey P., Vogelsberger M., Genel S., Sijacki D., Springel V., Hernquist L., 2014, <span class="l">MNRAS, 438, 1985</span></div>
<div>Trayford J. W., Schaye J., 2019, <span class="l">MNRAS, 485, 5715</span></div>
<div>Vulcani B., et al., 2019, <span class="l">Monthly Notices of the Royal Astronomical Society, 488, 1597</span></div>
<div>Wetzel A. R., Hopkins P. F., Kim J.-h., Faucher-Giguère C.-A., Kereš D., Quataert E., 2016, <span class="l">ApJ, 827, L23</span></div>
<div>Whitaker K. E., et al., 2015, <span class="l">ApJ, 811, L12</span></div>
</div>
<div class="s" style="left:3826px;top:1083px;width:340px;height:30px">This paper has been typeset from a T<sub>E</sub>X/L<sup>A</sup>T<sub>E</sub>X file prepared by the author.</div>

<script>
// ---------- Figure 2 data ----------
const f2Titles = ['δr = 100 pc', 'δr = 500 pc', 'δr = 1 kpc'];
const f2Slope = [0.52, 0.88, 0.98];
const f2FitAt8 = [-1.62, -1.75, -1.4];
const f2Thresh = [-2.1, -3.5, -4.1];
const f2SlopeLabel = ['α_MS = 0.52 ± 0.0014', 'α_MS = 0.88 ± 0.0021', 'α_MS = 0.98 ± 0.0027'];
const f2Npix = ['5166854', '308114', '78054'];
const f2XTicks = [5, 6, 7, 8, 9, 10, 11];
const f2YTicks = [1, 0, -1, -2, -3, -4];
const f2Blob1X = [6.4, 7.2, 8.0, 8.8, 9.4, 10.3, 10.3, 9.5, 7.8, 6.4];
const f2Blob1Y = [-2.1, -0.9, -0.1, 0.5, 0.9, 1.0, -2.1, -2.3, -2.3, -2.1];
const f2Blob2X = [5.2, 5.8, 6.5, 7.3, 8.2, 9.0, 9.6, 10.2, 10.0, 9.0, 7.8, 6.5, 5.2];
const f2Blob2Y = [-3.5, -2.6, -1.6, -0.6, 0.3, 0.9, 1.0, 0.3, -0.8, -2.0, -3.0, -3.6, -3.7];
const f2Blob3X = [5.6, 6.0, 6.5, 7.2, 8.1, 9.0, 9.8, 10.1, 9.6, 9.0, 8.3, 7.6, 7.2, 5.8];
const f2Blob3Y = [-3.9, -3.0, -2.0, -1.0, -0.2, 0.5, 0.8, 0.3, -0.6, -1.5, -2.6, -3.4, -3.9, -4.1];
const f2Blobs = [[f2Blob1X, f2Blob1Y], [f2Blob2X, f2Blob2Y], [f2Blob3X, f2Blob3Y]];

// ---------- Figure 3 data ----------
const f3Res = [0.1, 0.2, 0.5, 0.75, 1.0, 2.0, 3.0, 5.0];
const f3Inst = [0.0, 0.0, 0.15, 0.28, 0.39, 0.71, 0.86, 0.88];
const f3Ten = [0.15, 0.29, 0.48, 0.63, 0.72, 0.93, 0.99, 0.97];
const f3Hun = [0.52, 0.77, 0.89, 0.95, 0.98, 1.02, 0.99, 0.93];
const f3Err = [0.01, 0.01, 0.02, 0.03, 0.04, 0.05, 0.06, 0.03];
const f3ObsX = [0.1, 0.1, 1.0, 1.0, 1.0, 1.0, 1.0, 1.0, 1.0, 1.0, 1.0, 1.5, 1.5, 1.5];
const f3ObsY = [0.8, 0.4, 1.09, 1.02, 0.93, 0.9, 0.87, 0.84, 0.8, 0.68, 0.63, 0.88, 0.75, 0.69];
const f3XTicks = [0, 1, 2, 3, 4, 5];
const f3YTicks = [0, 0.2, 0.4, 0.6, 0.8, 1.0, 1.2];
const f3InsInstX = [0.02, 0.1, 0.3, 0.5, 0.75, 0.88, 0.95];
const f3InsInstY = [0.0, 0.15, 0.39, 0.58, 0.77, 0.86, 0.88];
const f3InsTenX = [0.03, 0.12, 0.3, 0.5, 0.7, 0.85, 0.95];
const f3InsTenY = [0.12, 0.24, 0.42, 0.6, 0.8, 0.93, 0.99];
const f3InsHunX = [0.55, 0.7, 0.85, 0.95, 0.99];
const f3InsHunY = [0.45, 0.62, 0.85, 0.97, 1.0];
const f3InsXTicks = [0, 0.2, 0.4, 0.6, 0.8, 1.0];
const f3InsYTicks = [0, 0.4, 0.8, 1.2];

// ---------- Figure 4 data ----------
const f4Res = [0.02, 0.4, 0.8, 1.6, 3.1, 5.0];
const f4M49 = [0, 0.01, 0.04, 0.14, 0.49, 0.90];
const f4M46 = [0, 0.03, 0.07, 0.26, 0.76, 1.04];
const f4M43 = [0, 0.05, 0.14, 0.47, 1.01, 1.09];
const f4M40 = [0, 0.07, 0.26, 0.74, 1.09, 1.06];
const f4M37 = [0, 0.13, 0.45, 0.97, 1.06, 1.03];
const f4M34 = [0, 0.24, 0.70, 1.06, 1.01, 0.99];
const f4MassLabels = ['4.9', '4.6', '4.3', '4.0', '3.7', '3.4'];
const f4XTicks = [0, 1, 2, 3, 4, 5];
const f4YTicks = [0, 0.2, 0.4, 0.6, 0.8, 1.0, 1.2];

const NS = 'http://www.w3.org/2000/svg';
function mk(parent, tag, attrs, txt) {
  const e = document.createElementNS(NS, tag);
  for (const k in attrs) e.setAttribute(k, attrs[k]);
  if (txt !== undefined) e.textContent = txt;
  parent.appendChild(e);
  return e;
}
function fmt(v) { return v.toFixed(1); }

// ===== Figure 2 =====
(function () {
  const svg = document.getElementById('fig2');
  const defs = mk(svg, 'defs', {});
  const g = mk(defs, 'radialGradient', { id: 'dens', cx: '0.6', cy: '0.55', r: '0.6' });
  mk(g, 'stop', { offset: '0', 'stop-color': '#f7e225' });
  mk(g, 'stop', { offset: '0.3', 'stop-color': '#fca636' });
  mk(g, 'stop', { offset: '0.6', 'stop-color': '#e16462' });
  mk(g, 'stop', { offset: '0.85', 'stop-color': '#b12a90' });
  mk(g, 'stop', { offset: '1', 'stop-color': '#6a00a8' });
  const PW = 173, PH = 126, PY = 22, ymin = -4.35, ymax = 1.0;
  const ys = v => PY + (ymax - v) / (ymax - ymin) * PH;
  for (let i = 0; i < 3; i++) {
    const PX = 55 + PW * i;
    const xs = v => PX + (v - 5) / 6 * PW;
    const cp = mk(defs, 'clipPath', { id: 'cp' + i });
    mk(cp, 'rect', { x: PX, y: PY, width: PW, height: PH });
    const bx = f2Blobs[i][0], by = f2Blobs[i][1];
    const blob = mk(svg, 'polygon', { points: bx.map((x, k) => xs(x) + ',' + ys(by[k])).join(' '), fill: 'url(#dens)', 'clip-path': 'url(#cp' + i + ')' });
    
    
    const th = mk(svg, 'line', { x1: PX, x2: PX + PW, y1: ys(f2Thresh[i]), y2: ys(f2Thresh[i]), stroke: '#555', 'stroke-width': 1, 'stroke-dasharray': '1.5,2' });
    
    
    const fit = mk(svg, 'line', { x1: xs(5), y1: ys(f2FitAt8[i] - 3 * f2Slope[i]), x2: xs(11), y2: ys(f2FitAt8[i] + 3 * f2Slope[i]), stroke: '#2a0a7a', 'stroke-width': 1.6, 'clip-path': 'url(#cp' + i + ')' });
    
    
    const box = mk(svg, 'rect', { x: PX, y: PY, width: PW, height: PH, fill: 'none', stroke: '#222', 'stroke-width': 1 });
    
    
    f2XTicks.forEach(t => {
      mk(svg, 'line', { x1: xs(t), x2: xs(t), y1: PY + PH, y2: PY + PH - 5, stroke: '#222' });
      mk(svg, 'line', { x1: xs(t), x2: xs(t), y1: PY, y2: PY + 5, stroke: '#222' });
      for (let m = 0.2; m < 0.99 && t < 11; m += 0.2) {
        mk(svg, 'line', { x1: xs(t + m), x2: xs(t + m), y1: PY + PH, y2: PY + PH - 2.5, stroke: '#222' });
        mk(svg, 'line', { x1: xs(t + m), x2: xs(t + m), y1: PY, y2: PY + 2.5, stroke: '#222' });
      }
      if (t < 11 || i === 2) {
        const tl = mk(svg, 'text', { x: xs(t), y: PY + PH + 16, 'font-size': 12.5, 'text-anchor': 'middle', fill: '#222' }, fmt(t));
        
        
      }
    });
    f2YTicks.forEach(t => {
      mk(svg, 'line', { x1: PX, x2: PX + 5, y1: ys(t), y2: ys(t), stroke: '#222' });
      mk(svg, 'line', { x1: PX + PW, x2: PX + PW - 5, y1: ys(t), y2: ys(t), stroke: '#222' });
      if (i === 0) {
        const tl = mk(svg, 'text', { x: PX - 3, y: ys(t) + 4, 'font-size': 12.5, 'text-anchor': 'end', fill: '#222' }, fmt(t));
        
        
      }
    });
    const ti = mk(svg, 'text', { x: PX + PW / 2, y: 16, 'font-size': 13.5, 'text-anchor': 'middle', fill: '#222', 'font-style': 'italic' }, f2Titles[i]);
    
    
    const al = mk(svg, 'text', { x: PX + 7, y: PY + 19, 'font-size': 11, fill: '#8a52c8' }, f2SlopeLabel[i].replace('α_MS', 'αMS'));
    
    
    const np = mk(svg, 'text', { x: PX + 7, y: PY + 34, 'font-size': 9.5, fill: '#222', 'font-style': 'italic' }, 'Npxl = ' + f2Npix[i]);
    
    
    const xl = mk(svg, 'text', { x: PX + PW / 2, y: 179, 'font-size': 13, 'text-anchor': 'middle', fill: '#222' }, 'log(Σ⋆ [M⊙/kpc²])');
    
    
  }
  const yl = mk(svg, 'text', { x: 0, y: 0, 'font-size': 13, 'text-anchor': 'middle', fill: '#222', transform: 'translate(24 ' + (PY + PH / 2) + ') rotate(-90)' }, 'log(ΣSFR [M⊙/yr/kpc²])');
  
  
})();

// ===== Figure 3 =====
(function () {
  const svg = document.getElementById('fig3');
  const X0 = 49, Y0 = 13, W = 262, H = 196, XMAX = 5.53;
  const xs = v => X0 + v / XMAX * W;
  const ys = v => Y0 + H - v / 1.2 * H;
  const fr = mk(svg, 'rect', { x: X0, y: Y0, width: W, height: H, fill: '#fff', stroke: '#222' });
  
  
  f3XTicks.forEach(t => {
    mk(svg, 'line', { x1: xs(t), x2: xs(t), y1: Y0 + H, y2: Y0 + H - 6, stroke: '#222' });
    mk(svg, 'line', { x1: xs(t), x2: xs(t), y1: Y0, y2: Y0 + 6, stroke: '#222' });
    for (let m = 0.2; m < 0.99; m += 0.2) { if (t + m < XMAX) { mk(svg, 'line', { x1: xs(t + m), x2: xs(t + m), y1: Y0 + H, y2: Y0 + H - 3, stroke: '#222' }); mk(svg, 'line', { x1: xs(t + m), x2: xs(t + m), y1: Y0, y2: Y0 + 3, stroke: '#222' }); } }
    const tl = mk(svg, 'text', { x: xs(t), y: Y0 + H + 17, 'font-size': 13, 'text-anchor': 'middle', fill: '#222' }, fmt(t));
    
    
  });
  f3YTicks.forEach(t => {
    mk(svg, 'line', { x1: X0, x2: X0 + 6, y1: ys(t), y2: ys(t), stroke: '#222' });
    mk(svg, 'line', { x1: X0 + W, x2: X0 + W - 6, y1: ys(t), y2: ys(t), stroke: '#222' });
    mk(svg, 'line', { x1: X0, x2: X0 + 3, y1: ys(t + 0.1), y2: ys(t + 0.1), stroke: '#222' });
    const tl = mk(svg, 'text', { x: X0 - 3, y: ys(t) + 4, 'font-size': 13, 'text-anchor': 'end', fill: '#222' }, fmt(t));
    
    
  });
  f3ObsX.forEach((x, k) => {
    const o = mk(svg, 'circle', { cx: xs(x), cy: ys(f3ObsY[k]), r: 2.6, fill: 'none', stroke: '#b8b0e8', 'stroke-width': 1 });
    
    
  });
  const series = [
    { y: f3Inst, c: '#3b0f9e', d: '', m: 'circle', name: 'series-sfr-inst' },
    { y: f3Ten, c: '#9c2a8c', d: '9,5', m: 'star', name: 'series-sfr-10myr' },
    { y: f3Hun, c: '#f6a623', d: '2,3', m: 'diamond', name: 'series-sfr-100myr' }];
  series.forEach(s => {
    const pl = mk(svg, 'polyline', { points: f3Res.map((x, k) => xs(x) + ',' + ys(s.y[k])).join(' '), fill: 'none', stroke: s.c, 'stroke-width': 2.4, 'stroke-dasharray': s.d });
    
    
    f3Res.forEach((x, k) => {
      mk(svg, 'line', { x1: xs(x), x2: xs(x), y1: ys(s.y[k] - f3Err[k]), y2: ys(s.y[k] + f3Err[k]), stroke: s.c, 'stroke-width': 1 });
      let mkr;
      if (s.m === 'circle') mkr = mk(svg, 'circle', { cx: xs(x), cy: ys(s.y[k]), r: 3.6, fill: s.c });
      else if (s.m === 'diamond') mkr = mk(svg, 'polygon', { points: `${xs(x)},${ys(s.y[k]) - 5} ${xs(x) + 4},${ys(s.y[k])} ${xs(x)},${ys(s.y[k]) + 5} ${xs(x) - 4},${ys(s.y[k])}`, fill: s.c });
      else mkr = mk(svg, 'text', { x: xs(x), y: ys(s.y[k]) + 4, 'font-size': 12, 'text-anchor': 'middle', fill: s.c }, '★');
      
      
    });
  });
  // legend
  const legX = [56, 140, 225], legLab = ['SFRinst', '⟨SFR10Myr⟩', '⟨SFR100Myr⟩'];
  series.forEach((s, k) => {
    mk(svg, 'line', { x1: legX[k], x2: legX[k] + 20, y1: 28, y2: 28, stroke: s.c, 'stroke-width': 2.4, 'stroke-dasharray': s.d });
    mk(svg, 'circle', { cx: legX[k] + 10, cy: 28, r: 3.4, fill: s.c });
    const lt = mk(svg, 'text', { x: legX[k] + 25, y: 31, 'font-size': 9, 'font-style': 'italic', fill: '#222' }, legLab[k]);
    
    
  });
  const xl = mk(svg, 'text', { x: X0 + W / 2, y: 236, 'font-size': 13.5, 'text-anchor': 'middle', fill: '#222' }, 'resolved scale [kpc]');
  
  
  const yl = mk(svg, 'text', { x: 0, y: 0, 'font-size': 14, 'font-style': 'italic', 'text-anchor': 'middle', fill: '#222', transform: `translate(27 ${Y0 + H / 2}) rotate(-90)` }, 'αMS');
  
  
  // inset
  const IX = 181, IY = 103, IW = 112, IH = 77;
  const ixs = v => IX + v * IW, iys = v => IY + IH - v / 1.2 * IH;
  const ib = mk(svg, 'rect', { x: IX, y: IY, width: IW, height: IH, fill: '#fff', stroke: '#222' });
  
  
  f3InsXTicks.forEach(t => {
    mk(svg, 'line', { x1: ixs(t), x2: ixs(t), y1: IY + IH, y2: IY + IH - 4, stroke: '#222' });
    mk(svg, 'line', { x1: ixs(t), x2: ixs(t), y1: IY, y2: IY + 4, stroke: '#222' });
    const tl = mk(svg, 'text', { x: ixs(t), y: IY + IH + 12, 'font-size': 10, 'text-anchor': 'middle', fill: '#222' }, fmt(t));
    
    
  });
  f3InsYTicks.forEach(t => {
    mk(svg, 'line', { x1: IX, x2: IX + 4, y1: iys(t), y2: iys(t), stroke: '#222' });
    const tl = mk(svg, 'text', { x: IX - 2, y: iys(t) + 3, 'font-size': 10, 'text-anchor': 'end', fill: '#222' }, fmt(t));
    
    
  });
  const ins = [[f3InsInstX, f3InsInstY, '#3b0f9e', ''], [f3InsTenX, f3InsTenY, '#9c2a8c', '6,3'], [f3InsHunX, f3InsHunY, '#f6a623', '2,2']];
  ins.forEach(s => {
    const pl = mk(svg, 'polyline', { points: s[0].map((x, k) => ixs(x) + ',' + iys(s[1][k])).join(' '), fill: 'none', stroke: s[2], 'stroke-width': 2, 'stroke-dasharray': s[3] });
    
    
  });
  const ix = mk(svg, 'text', { x: IX + IW / 2, y: IY + IH + 26, 'font-size': 11, 'font-style': 'italic', 'text-anchor': 'middle', fill: '#222' }, 'fSF');
  
  
  const iy = mk(svg, 'text', { x: 0, y: 0, 'font-size': 10, 'font-style': 'italic', 'text-anchor': 'middle', fill: '#222', transform: `translate(${IX - 22} ${IY + IH / 2}) rotate(-90)` }, 'αMS');
  
  
})();

// ===== Figure 4 =====
(function () {
  const svg = document.getElementById('fig4');
  const X0 = 53, Y0 = 17, W = 272, H = 201, XMAX = 5.48;
  const xs = v => X0 + v / XMAX * W;
  const ys = v => Y0 + H - v / 1.2 * H;
  const fr = mk(svg, 'rect', { x: X0, y: Y0, width: W, height: H, fill: '#fff', stroke: '#222' });
  
  
  f4XTicks.forEach(t => {
    mk(svg, 'line', { x1: xs(t), x2: xs(t), y1: Y0 + H, y2: Y0 + H - 6, stroke: '#222' });
    mk(svg, 'line', { x1: xs(t), x2: xs(t), y1: Y0, y2: Y0 + 6, stroke: '#222' });
    for (let m = 0.2; m < 0.99; m += 0.2) { if (t + m < XMAX) { mk(svg, 'line', { x1: xs(t + m), x2: xs(t + m), y1: Y0 + H, y2: Y0 + H - 3, stroke: '#222' }); mk(svg, 'line', { x1: xs(t + m), x2: xs(t + m), y1: Y0, y2: Y0 + 3, stroke: '#222' }); } }
    const tl = mk(svg, 'text', { x: xs(t), y: Y0 + H + 17, 'font-size': 13, 'text-anchor': 'middle', fill: '#222' }, fmt(t));
    
    
  });
  f4YTicks.forEach(t => {
    mk(svg, 'line', { x1: X0, x2: X0 + 6, y1: ys(t), y2: ys(t), stroke: '#222' });
    mk(svg, 'line', { x1: X0 + W, x2: X0 + W - 6, y1: ys(t), y2: ys(t), stroke: '#222' });
    mk(svg, 'line', { x1: X0, x2: X0 + 3, y1: ys(t + 0.1), y2: ys(t + 0.1), stroke: '#222' });
    const tl = mk(svg, 'text', { x: X0 - 3, y: ys(t) + 4, 'font-size': 13, 'text-anchor': 'end', fill: '#222' }, fmt(t));
    
    
  });
  const vals = [f4M49, f4M46, f4M43, f4M40, f4M37, f4M34];
  const cols = ['#2c0594', '#6a00a8', '#b12a90', '#e16462', '#f89540', '#fcce25'];
  vals.forEach((v, i) => {
    const pl = mk(svg, 'polyline', { points: f4Res.map((x, k) => xs(x) + ',' + ys(v[k])).join(' '), fill: 'none', stroke: cols[i], 'stroke-width': 2.6 });
    
    
    f4Res.forEach((x, k) => {
      const c = mk(svg, 'circle', { cx: xs(x), cy: ys(v[k]), r: 3.5, fill: cols[i] });
      
      
    });
  });
  f4MassLabels.forEach((m, i) => {
    const ly = 131 + i * 14.6;
    mk(svg, 'line', { x1: 220, x2: 240, y1: ly, y2: ly, stroke: cols[i], 'stroke-width': 2.6 });
    mk(svg, 'circle', { cx: 230, cy: ly, r: 3.5, fill: cols[i] });
    const lt = mk(svg, 'text', { x: 243, y: ly + 3.5, 'font-size': 9, fill: '#222' }, 'log(MSF/M⊙) = ' + m);
    
    
  });
  const xl = mk(svg, 'text', { x: X0 + W / 2, y: 245, 'font-size': 13.5, 'text-anchor': 'middle', fill: '#222' }, 'resolved scale [kpc]');
  
  
  const yl = mk(svg, 'text', { x: 0, y: 0, 'font-size': 14, 'font-style': 'italic', 'text-anchor': 'middle', fill: '#222', transform: `translate(28 ${Y0 + H / 2}) rotate(-90)` }, 'ΔαMS');
  
  
})();
</script>
</body></html>
